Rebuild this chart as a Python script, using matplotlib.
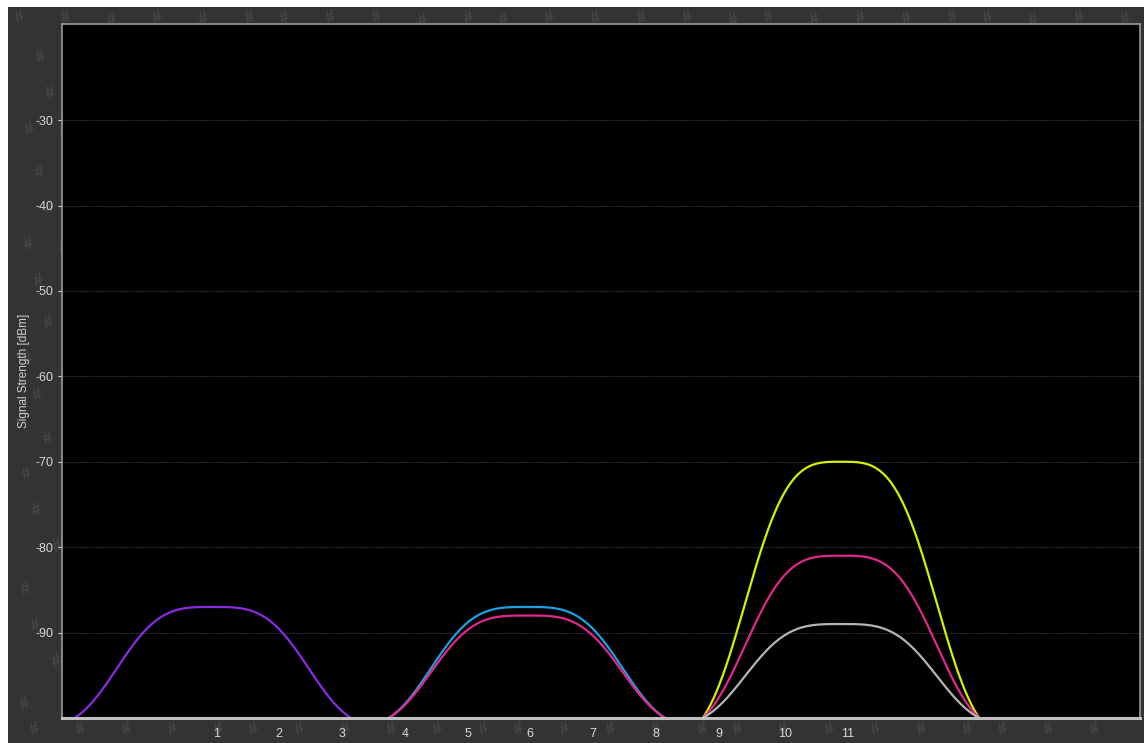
import numpy as np
import matplotlib
matplotlib.use("Agg")
import matplotlib.pyplot as plt
from matplotlib.patches import Rectangle

# networks: channel, peak signal (dBm), colour
channels = [1, 6, 6, 11, 11, 11]
signal_dbm = [-87, -87, -88, -70, -81, -89]
net_colors = ['#8a2be2', '#1ba1e2', '#e0288c', '#d4f000', '#e0288c', '#b4b4b4']

tick_channels = list(range(1, 12))
y_ticks = [-30, -40, -50, -60, -70, -80, -90]

FLOOR = -100
HALF_WIDTH = 11.0  # MHz, 22 MHz wide channel


def chan_freq(ch):
    return 2407 + 5 * ch


def channel_shape(center, peak):
    # rounded bump that drops to the floor at +-11 MHz
    f = np.linspace(center - HALF_WIDTH, center + HALF_WIDTH, 400)
    u = np.abs(f - center) / HALF_WIDTH
    s, p = 0.77, 3.4
    g = np.exp(-(u / s) ** p)
    g0 = np.exp(-(1 / s) ** p)
    g = (g - g0) / (1 - g0)
    return f, FLOOR + (peak - FLOOR) * g


plt.rcParams['font.family'] = ['Liberation Sans Narrow', 'Liberation Sans', 'DejaVu Sans']

W, H = 1144, 743
fig = plt.figure(figsize=(W / 100, H / 100), dpi=100, facecolor='white')

# dark panel behind everything
fig.patches.append(Rectangle((8 / W, 0), 1 - 8 / W, 1 - 7 / H, transform=fig.transFigure,
                             facecolor='#333333', edgecolor='none', zorder=0))

# faint '#' watermark pattern, only visible in the margins
for row, py in enumerate(range(17, 740, 38)):
    for col, px in enumerate(range(24 + (row % 3) * 14, 1125, 44)):
        jx = ((row * 7 + col * 13) % 11) - 5
        jy = ((row * 5 + col * 3) % 7) - 3
        y = min(max(py + jy, 17), 729)
        fig.text((px + jx) / W, 1 - y / H, '#', color='#464646', fontsize=12,
                 fontweight='bold', rotation=20, ha='center', va='center', zorder=1)

ax = fig.add_axes([62 / W, (H - 718) / H, (1140 - 62) / W, (718 - 24) / H], zorder=5)
ax.set_facecolor('black')

for ch, sig, col in zip(channels, signal_dbm, net_colors):
    f, y = channel_shape(chan_freq(ch), sig)
    ax.plot(f, y, color=col, lw=1.6, solid_capstyle='round')

ax.set_xlim(2400, 2485.8)
ax.set_ylim(FLOOR, -18.75)

ax.set_yticks(y_ticks)
ax.set_yticklabels([str(v) for v in y_ticks])
ax.set_xticks([chan_freq(c) for c in tick_channels])
ax.set_xticklabels([str(c) for c in tick_channels], ha='left')

ax.grid(True, axis='y', color='#3c3c3c', linestyle=(0, (1, 1)), lw=0.8)
ax.tick_params(axis='y', colors='#cfcfcf', labelsize=9, length=3, width=0.8, pad=3)
ax.tick_params(axis='x', colors='#cfcfcf', labelsize=9, length=0, pad=7)
for lbl in ax.get_yticklabels() + ax.get_xticklabels():
    lbl.set_color('#d8d8d8')

for side in ['top', 'right', 'left']:
    ax.spines[side].set_color('#9a9a9a')
    ax.spines[side].set_linewidth(1.2)
ax.spines['bottom'].set_color('#c0c0c0')
ax.spines['bottom'].set_linewidth(2.2)

ax.set_ylabel('Signal Strength [dBm]', color='#d0d0d0', fontsize=8.5, labelpad=4)

fig.savefig('out.png', dpi=100, facecolor=fig.get_facecolor())
